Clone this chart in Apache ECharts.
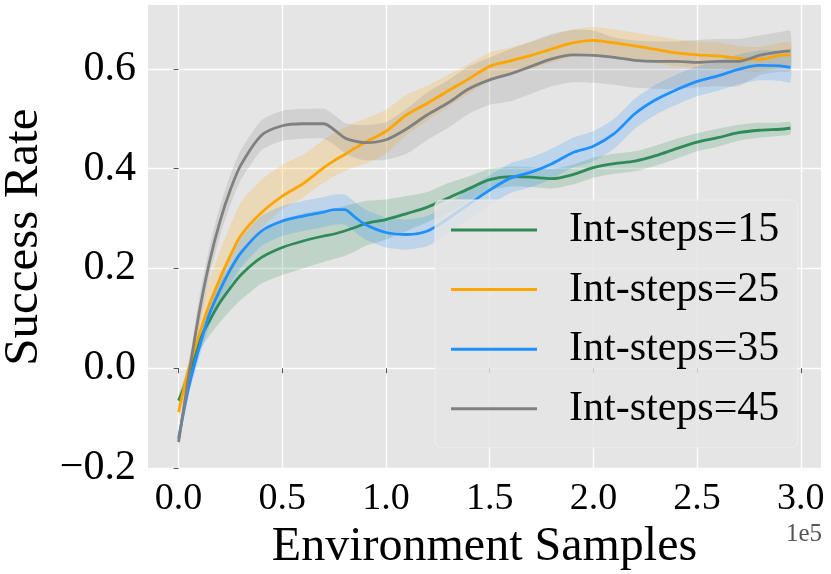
<!DOCTYPE html>
<html>
<head>
<meta charset="utf-8">
<script src="https://cdn.jsdelivr.net/npm/echarts@6/dist/echarts.min.js"></script>
<style>
  html, body { margin: 0; padding: 0; background: #fff; }
  #grafico { width: 831px; height: 574px; }
</style>
</head>
<body>
<div id="grafico"></div>
<script>
// amostras do ambiente, em unidades de 1e5
var xs = [0, 0.05, 0.1, 0.15, 0.2, 0.25, 0.3, 0.4, 0.5, 0.6, 0.7, 0.75, 0.8, 0.85, 0.9,
  1.0, 1.1, 1.2, 1.3, 1.4, 1.5, 1.6, 1.7, 1.8, 1.9, 2.0, 2.1, 2.2, 2.3, 2.4, 2.5, 2.6, 2.7, 2.8, 2.9, 2.95];

var names = ['Int-steps=15', 'Int-steps=25', 'Int-steps=35', 'Int-steps=45'];

// Int-steps=15
var greenMean = [-0.065, -0.012, 0.055, 0.096, 0.132, 0.161, 0.187, 0.222, 0.242, 0.255, 0.265, 0.269, 0.275, 0.282, 0.29,
  0.298, 0.31, 0.323, 0.341, 0.36, 0.378, 0.384, 0.383, 0.38, 0.388, 0.402, 0.41, 0.415, 0.426, 0.44, 0.453, 0.462, 0.472, 0.477, 0.479, 0.481];
var greenLow = [-0.077, -0.027, 0.035, 0.066, 0.092, 0.116, 0.137, 0.17, 0.187, 0.2, 0.213, 0.219, 0.225, 0.234, 0.245,
  0.258, 0.275, 0.293, 0.311, 0.335, 0.356, 0.364, 0.363, 0.36, 0.368, 0.382, 0.39, 0.395, 0.406, 0.42, 0.435, 0.444, 0.456, 0.462, 0.466, 0.469];
var greenHigh = [-0.053, 0.003, 0.075, 0.126, 0.172, 0.206, 0.237, 0.274, 0.297, 0.31, 0.317, 0.319, 0.325, 0.33, 0.335,
  0.338, 0.345, 0.353, 0.371, 0.385, 0.4, 0.404, 0.403, 0.4, 0.408, 0.422, 0.43, 0.435, 0.446, 0.46, 0.471, 0.48, 0.488, 0.492, 0.492, 0.493];

// Int-steps=25
var orangeMean = [-0.088, 0.0, 0.068, 0.13, 0.18, 0.226, 0.266, 0.312, 0.345, 0.37, 0.402, 0.416, 0.428, 0.441, 0.453,
  0.475, 0.508, 0.531, 0.556, 0.58, 0.605, 0.616, 0.627, 0.64, 0.652, 0.657, 0.652, 0.646, 0.639, 0.632, 0.628, 0.626, 0.621, 0.619, 0.627, 0.628];
var orangeLow = [-0.1, -0.02, 0.038, 0.09, 0.14, 0.186, 0.224, 0.28, 0.318, 0.342, 0.372, 0.385, 0.395, 0.403, 0.41,
  0.43, 0.468, 0.496, 0.524, 0.55, 0.577, 0.589, 0.6, 0.613, 0.625, 0.63, 0.625, 0.619, 0.612, 0.605, 0.601, 0.599, 0.596, 0.594, 0.602, 0.603];
var orangeHigh = [-0.076, 0.02, 0.098, 0.18, 0.235, 0.287, 0.332, 0.378, 0.408, 0.428, 0.458, 0.471, 0.482, 0.492, 0.5,
  0.518, 0.548, 0.566, 0.588, 0.61, 0.633, 0.643, 0.654, 0.667, 0.679, 0.684, 0.679, 0.673, 0.666, 0.659, 0.655, 0.653, 0.646, 0.644, 0.652, 0.653];

// Int-steps=35
var blueMean = [-0.141, -0.036, 0.042, 0.11, 0.157, 0.198, 0.231, 0.275, 0.295, 0.305, 0.313, 0.318, 0.318, 0.303, 0.288,
  0.272, 0.268, 0.275, 0.3, 0.329, 0.357, 0.381, 0.393, 0.41, 0.432, 0.445, 0.47, 0.51, 0.538, 0.558, 0.575, 0.586, 0.599, 0.607, 0.606, 0.603];
var blueLow = [-0.151, -0.051, 0.022, 0.085, 0.129, 0.168, 0.201, 0.245, 0.265, 0.275, 0.283, 0.288, 0.288, 0.273, 0.258,
  0.242, 0.238, 0.245, 0.27, 0.299, 0.327, 0.351, 0.363, 0.38, 0.402, 0.415, 0.44, 0.48, 0.508, 0.528, 0.545, 0.556, 0.569, 0.577, 0.576, 0.573];
var blueHigh = [-0.131, -0.021, 0.062, 0.135, 0.185, 0.228, 0.261, 0.305, 0.325, 0.335, 0.343, 0.348, 0.348, 0.333, 0.318,
  0.302, 0.298, 0.305, 0.33, 0.359, 0.387, 0.411, 0.423, 0.44, 0.462, 0.475, 0.5, 0.54, 0.568, 0.588, 0.605, 0.616, 0.629, 0.637, 0.636, 0.633];

// Int-steps=45
var greyMean = [-0.148, -0.012, 0.113, 0.215, 0.295, 0.358, 0.407, 0.467, 0.486, 0.49, 0.49, 0.478, 0.462, 0.455, 0.452,
  0.458, 0.48, 0.508, 0.532, 0.56, 0.578, 0.59, 0.605, 0.62, 0.628, 0.627, 0.623, 0.617, 0.615, 0.615, 0.613, 0.615, 0.615, 0.627, 0.634, 0.636];
var greyLow = [-0.16, -0.032, 0.083, 0.185, 0.265, 0.328, 0.377, 0.437, 0.456, 0.46, 0.46, 0.448, 0.432, 0.422, 0.417,
  0.418, 0.43, 0.458, 0.482, 0.51, 0.528, 0.535, 0.55, 0.565, 0.573, 0.572, 0.568, 0.562, 0.56, 0.56, 0.563, 0.565, 0.565, 0.587, 0.594, 0.596];
var greyHigh = [-0.136, 0.008, 0.143, 0.245, 0.325, 0.388, 0.437, 0.497, 0.516, 0.52, 0.52, 0.508, 0.492, 0.488, 0.487,
  0.493, 0.52, 0.553, 0.577, 0.605, 0.623, 0.64, 0.655, 0.67, 0.678, 0.677, 0.663, 0.657, 0.655, 0.655, 0.658, 0.66, 0.66, 0.667, 0.674, 0.676];

var xTicks = [0, 0.5, 1.0, 1.5, 2.0, 2.5, 3.0];
var yTicks = [-0.2, 0.0, 0.2, 0.4, 0.6];

var chartDom = document.getElementById('grafico');
var myChart = echarts.init(chartDom, null, { renderer: 'canvas' });
var option;
var fonte = 'Liberation Serif';

var cores = ['#2e8b57', '#ffa500', '#1e90ff', '#808080'];
var coresFaixa = ['rgba(46,139,87,0.2)', 'rgba(255,165,0,0.2)', 'rgba(30,144,255,0.2)', 'rgba(128,128,128,0.2)'];
var medias = [greenMean, orangeMean, blueMean, greyMean];
var baixos = [greenLow, orangeLow, blueLow, greyLow];
var altos = [greenHigh, orangeHigh, blueHigh, greyHigh];

function pares(ys) {
  return xs.map(function (x, i) { return [x, ys[i]]; });
}

// faixa sombreada entre baixo e alto, desenhada pelas escalas do proprio grafico
function faixa(lo, hi, cor) {
  return {
    type: 'custom', silent: true, z: 1,
    data: [[xs[0], lo[0]]],
    renderItem: function (params, api) {
      var pts = [];
      for (var i = 0; i < xs.length; i++) pts.push(api.coord([xs[i], hi[i]]));
      for (var m = xs.length - 1; m >= 0; m--) pts.push(api.coord([xs[m], lo[m]]));
      return {
        type: 'polygon',
        shape: { points: pts, smooth: 0.2 },
        style: { fill: cor, stroke: null }
      };
    }
  };
}

var series = [];
for (var k = 0; k < 4; k++) {
  series.push(faixa(baixos[k], altos[k], coresFaixa[k]));
}
for (var j = 0; j < 4; j++) {
  series.push({
    name: names[j], type: 'line', data: pares(medias[j]), symbol: 'none', smooth: 0.3, z: 3,
    color: cores[j],
    lineStyle: { color: cores[j], width: 2.8 },
    itemStyle: { color: cores[j] }
  });
}

function rotulo(v) {
  return v.toFixed(1).replace('-', '\u2212');
}

option = {
  animation: false,
  backgroundColor: '#ffffff',
  textStyle: { fontFamily: fonte },
  grid: {
    left: 148, right: 10, top: 5, bottom: 104.7,
    show: true, backgroundColor: '#e5e5e5', borderWidth: 0,
    outerBoundsMode: 'none'
  },
  legend: {
    data: names,
    orient: 'vertical',
    left: 435, top: 200,
    icon: 'rect',
    itemWidth: 86, itemHeight: 3, itemGap: 11.6,
    padding: [6, 18, 15, 16],
    backgroundColor: 'rgba(229,229,229,0.8)',
    borderColor: 'rgba(238,238,238,0.9)', borderWidth: 1, borderRadius: 6,
    textStyle: { fontFamily: fonte, fontSize: 42, color: '#000', lineHeight: 48, padding: [0, 0, 0, 27] }
  },
  xAxis: {
    type: 'value',
    min: -0.1475, max: 3.0975,
    minInterval: 0.5, maxInterval: 0.5,
    name: 'Environment Samples', nameLocation: 'middle', nameGap: 51,
    nameTextStyle: { fontFamily: fonte, fontSize: 48, color: '#000' },
    axisLine: { show: false },
    axisTick: { show: true, length: 5, lineStyle: { color: '#555', width: 1 }, customValues: xTicks },
    axisLabel: {
      customValues: xTicks, margin: 11,
      fontFamily: fonte, fontSize: 38, color: '#000',
      formatter: function (v) { return rotulo(v); }
    },
    splitLine: { show: true, lineStyle: { color: '#fff', width: 1.3 } }
  },
  yAxis: {
    type: 'value',
    min: -0.2026, max: 0.728,
    minInterval: 0.2, maxInterval: 0.2,
    name: 'Success Rate', nameLocation: 'middle', nameGap: 99,
    nameTextStyle: { fontFamily: fonte, fontSize: 49, color: '#000' },
    axisLine: { show: false },
    axisTick: { show: true, length: 5, lineStyle: { color: '#555', width: 1 }, customValues: yTicks },
    axisLabel: {
      customValues: yTicks, margin: 12,
      fontFamily: fonte, fontSize: 42, color: '#000',
      formatter: function (v) { return rotulo(v); }
    },
    splitLine: { show: true, lineStyle: { color: '#fff', width: 1.3 } }
  },
  graphic: [{
    type: 'text', right: 9, top: 522,
    style: { text: '1e5', fontFamily: fonte, fontSize: 25, fill: '#555' }
  }],
  series: series
};

option && myChart.setOption(option);
</script>
</body>
</html>
